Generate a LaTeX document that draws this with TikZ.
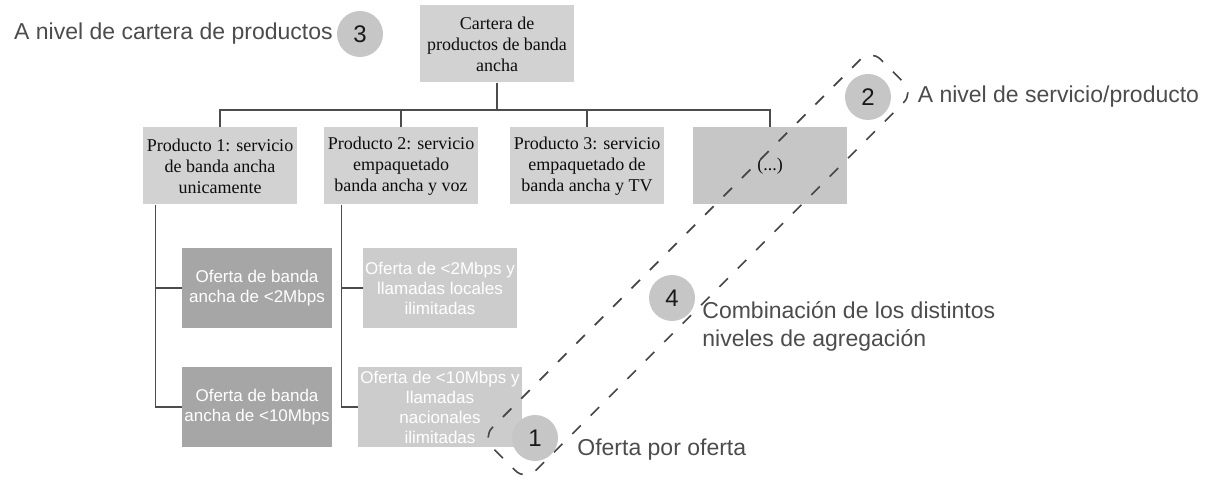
\documentclass[tikz,border=0pt]{standalone}
\usepackage{fontspec}
\setmainfont{Liberation Serif}
\setsansfont{Liberation Sans}
\usetikzlibrary{positioning,calc}

\begin{document}
\begin{tikzpicture}[
				x=0.5pt,y=-0.5pt,
				caja/.style={rectangle,fill=gray!35,text=gray!10!black,font=\fontsize{9}{10.5}\selectfont,align=center,minimum width=77pt,minimum height=38.5pt,inner sep=1pt},
				oferta/.style={rectangle,fill=gray!70,text=white,font=\sffamily\fontsize{8.5}{10}\selectfont,align=center,minimum width=75pt,minimum height=40pt,inner sep=1pt},
				ofertaclara/.style={oferta,fill=gray!40},
				nivel/.style={circle,fill=gray!45,minimum size=23pt,inner sep=0pt,font=\sffamily\fontsize{12}{12}\selectfont,text=gray!20!black},
				etiqueta/.style={font=\sffamily\fontsize{11.5}{14}\selectfont,text=gray!60!black,inner sep=0pt},
				linea/.style={draw=gray!60!black,line width=0.6pt}
				]
				\useasboundingbox (0,0) rectangle (1224,485);
				
				% Cartera
				\node[caja] (cartera) at (497,44) {Cartera de\\productos de banda\\ancha};
				
				% Productos
				\node[caja] (p1) at (220,166) {Producto 1: servicio\\de banda ancha\\unicamente};
				\node[caja] (p2) at (401,166) {Producto 2: servicio\\empaquetado\\banda ancha y voz};
				\node[caja] (p3) at (587,166) {Producto 3: servicio\\empaquetado de\\banda ancha y TV};
				\node[caja,fill=gray!45] (p4) at (770,166) {(...)};
				
				% Arbol
				\coordinate (bus) at (497,110);
				\draw[linea] (cartera.south) -- (bus);
				\draw[linea] (p1.north) |- (bus) -| (p4.north);
				\draw[linea] (p2.north) -- (p2.north |- bus);
				\draw[linea] (p3.north) -- (p3.north |- bus);
				
				% Ofertas
				\node[oferta] (o11) at (257,288) {Oferta de banda\\ancha de <2Mbps};
				\node[oferta] (o12) at (257,407) {Oferta de banda\\ancha de <10Mbps};
				\node[ofertaclara] (o21) at (440,288) {Oferta de <2Mbps y\\llamadas locales\\ilimitadas};
				\node[ofertaclara] (o22) at (440,407) {Oferta de <10Mbps y\\llamadas\\nacionales\\ilimitadas};
				
				\coordinate (r1) at ($(p1.south west)+(13,0)$);
				\coordinate (r2) at ($(p2.south west)+(18,0)$);
				\draw[linea] (r1) |- (o11.west);
				\draw[linea] (r1) |- (o12.west);
				\draw[linea] (r2) |- (o21.west);
				\draw[linea] (r2) |- (o22.west);
				
				% Agregacion
				\node[draw=gray!55!black,line width=0.8pt,dash pattern=on 6pt off 7pt,rounded corners=7pt,rotate=45,minimum width=274.5pt,minimum height=30.5pt] (agreg) at (698,265) {};
				
				% Niveles
				\node[nivel] (n3) at (360,34) {3};
				\node[etiqueta,anchor=east] (e3) at (333,34) {A nivel de cartera de productos};
				\node[nivel] (n2) at (868,97) {2};
				\node[etiqueta,right=13pt of n2] (e2) {A nivel de servicio/producto};
				\node[nivel] (n4) at (672,298) {4};
				\node[etiqueta,align=left,anchor=west] (e4) at (702,326) {Combinación de los distintos\\niveles de agregación};
				\node[nivel] (n1) at (535,438) {1};
				\node[etiqueta,anchor=west] (e1) at (577,450) {Oferta por oferta};
				
			\end{tikzpicture}
\end{document}
